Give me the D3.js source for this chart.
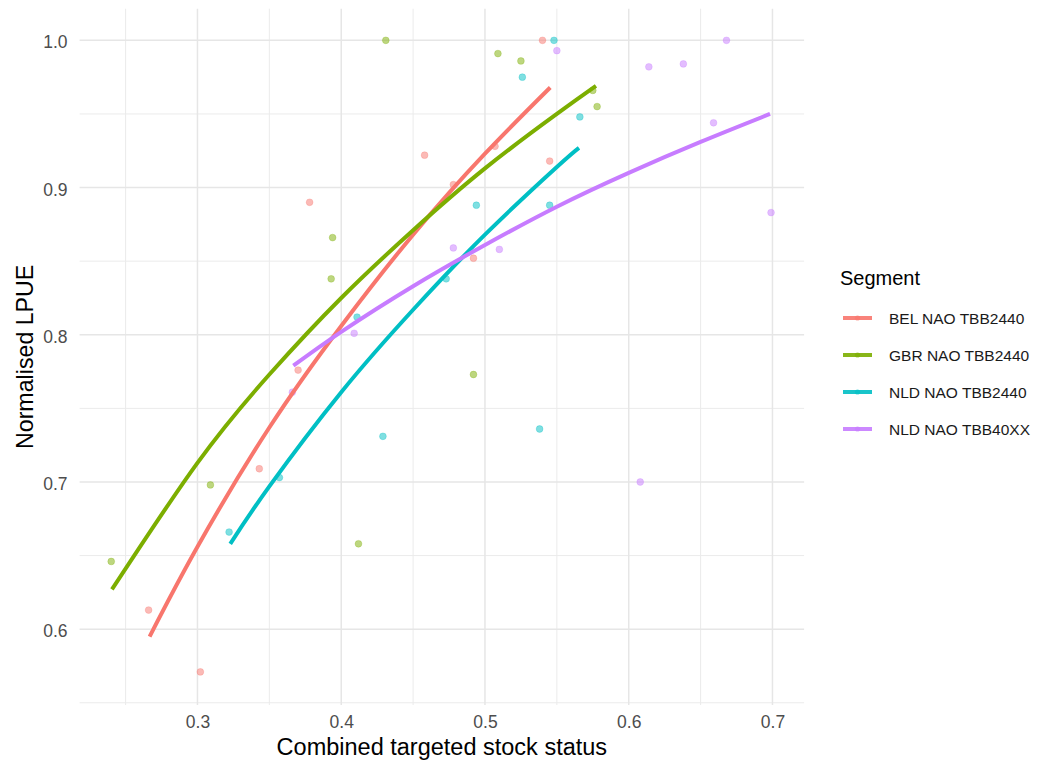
<!DOCTYPE html>
<html>
<head>
<meta charset="utf-8">
<script src="https://cdn.jsdelivr.net/npm/d3@7"></script>
<style>
  html, body { margin: 0; padding: 0; background: #ffffff; }
  svg { display: block; font-family: "Liberation Sans", Arial, Helvetica, sans-serif; }
</style>
</head>
<body>
<svg id="chart" width="1063" height="762"></svg>
<script>
// ---- Data ----
const segments = ["BEL NAO TBB2440", "GBR NAO TBB2440", "NLD NAO TBB2440", "NLD NAO TBB40XX"];
const colors = ["#F8766D", "#7CAE00", "#00BFC4", "#C77CFF"];

// Observed points [stock status, normalised LPUE]
const belPoints = [[0.458,0.922],[0.378,0.890],[0.540,1.000],[0.507,0.928],[0.545,0.918],[0.478,0.902],
  [0.492,0.852],[0.370,0.776],[0.343,0.709],[0.266,0.613],[0.302,0.571]];
const gbrPoints = [[0.431,1.000],[0.394,0.866],[0.509,0.991],[0.525,0.986],[0.575,0.966],[0.578,0.955],
  [0.393,0.838],[0.309,0.698],[0.492,0.773],[0.412,0.658],[0.240,0.646]];
const nld2440Points = [[0.548,1.000],[0.526,0.975],[0.566,0.948],[0.494,0.888],[0.545,0.888],[0.411,0.812],
  [0.429,0.731],[0.357,0.703],[0.473,0.838],[0.538,0.736],[0.322,0.666]];
const nld40xxPoints = [[0.550,0.993],[0.614,0.982],[0.638,0.984],[0.668,1.000],[0.659,0.944],[0.478,0.859],
  [0.510,0.858],[0.699,0.883],[0.409,0.801],[0.608,0.700],[0.366,0.761]];

// Fitted curves
const belCurve = [[0.2667,0.595],[0.30,0.656],[0.35,0.737],[0.40,0.806],[0.45,0.868],[0.50,0.923],[0.5454,0.968]];
const gbrCurve = [[0.2405,0.627],[0.30,0.713],[0.35,0.773],[0.40,0.825],[0.45,0.871],[0.50,0.913],[0.55,0.950],[0.5772,0.969]];
const nld2440Curve = [[0.3228,0.658],[0.35,0.697],[0.40,0.761],[0.45,0.817],[0.50,0.868],[0.55,0.914],[0.5654,0.927]];
const nld40xxCurve = [[0.3667,0.779],[0.40,0.802],[0.45,0.833],[0.50,0.861],[0.55,0.887],[0.60,0.910],[0.65,0.931],[0.6983,0.950]];

const xTicks = [0.3, 0.4, 0.5, 0.6, 0.7];
const xMinor = [0.25, 0.35, 0.45, 0.55, 0.65];
const yTicks = [0.6, 0.7, 0.8, 0.9, 1.0];
const yMinor = [0.55, 0.65, 0.75, 0.85, 0.95];

const xTitle = "Combined targeted stock status";
const yTitle = "Normalised LPUE";
const legendTitle = "Segment";

// ---- Layout ----
const svg = d3.select("#chart");
const panel = { left: 79.6, right: 804.1, top: 8.7, bottom: 705 };

const x = d3.scaleLinear().domain([0.218, 0.722]).range([panel.left, panel.right]);
const y = d3.scaleLinear().domain([0.5485, 1.0215]).range([panel.bottom, panel.top]);

const seriesPoints = [belPoints, gbrPoints, nld2440Points, nld40xxPoints];
const seriesCurves = [belCurve, gbrCurve, nld2440Curve, nld40xxCurve];

// Grid
const grid = svg.append("g");
grid.selectAll("line.xminor").data(xMinor).join("line")
  .attr("x1", d => x(d)).attr("x2", d => x(d))
  .attr("y1", panel.top).attr("y2", panel.bottom)
  .attr("stroke", "#EBEBEB").attr("stroke-width", 1);
grid.selectAll("line.yminor").data(yMinor).join("line")
  .attr("y1", d => y(d)).attr("y2", d => y(d))
  .attr("x1", panel.left).attr("x2", panel.right)
  .attr("stroke", "#EBEBEB").attr("stroke-width", 1);
grid.selectAll("line.xmajor").data(xTicks).join("line")
  .attr("x1", d => x(d)).attr("x2", d => x(d))
  .attr("y1", panel.top).attr("y2", panel.bottom)
  .attr("stroke", "#E6E6E6").attr("stroke-width", 1.5);
grid.selectAll("line.ymajor").data(yTicks).join("line")
  .attr("y1", d => y(d)).attr("y2", d => y(d))
  .attr("x1", panel.left).attr("x2", panel.right)
  .attr("stroke", "#E6E6E6").attr("stroke-width", 1.5);

// Axes (labels only, like ggplot theme_minimal)
const xAxis = d3.axisBottom(x).tickValues(xTicks).tickFormat(d3.format(".1f")).tickSize(0).tickPadding(0);
const gx = svg.append("g").attr("transform", `translate(0, ${panel.bottom})`).call(xAxis);
gx.select(".domain").remove();
gx.selectAll("text").attr("fill", "#4D4D4D").attr("font-size", 17.5)
  .attr("dy", null).attr("y", 23).attr("font-family", "Liberation Sans, Arial, sans-serif");

const yAxis = d3.axisLeft(y).tickValues(yTicks).tickFormat(d3.format(".1f")).tickSize(0).tickPadding(0);
const gy = svg.append("g").attr("transform", `translate(${panel.left}, 0)`).call(yAxis);
gy.select(".domain").remove();
gy.selectAll("text").attr("fill", "#4D4D4D").attr("font-size", 17.5)
  .attr("x", -12).attr("dy", "0.43em").attr("font-family", "Liberation Sans, Arial, sans-serif");

// Points
const pts = svg.append("g");
seriesPoints.forEach((arr, i) => {
  pts.selectAll(null).data(arr).join("circle")
    .attr("cx", d => x(d[0])).attr("cy", d => y(d[1]))
    .attr("r", 3.4)
    .attr("fill", colors[i]).attr("fill-opacity", 0.5)
    .attr("stroke", colors[i]).attr("stroke-opacity", 0.35).attr("stroke-width", 0.8);
});

// Curves
const line = d3.line().x(d => x(d[0])).y(d => y(d[1])).curve(d3.curveNatural);
const lines = svg.append("g");
seriesCurves.forEach((arr, i) => {
  lines.append("path").datum(arr)
    .attr("d", line)
    .attr("fill", "none")
    .attr("stroke", colors[i])
    .attr("stroke-width", 4);
});

// Axis titles
svg.append("text").attr("x", (panel.left + panel.right) / 2).attr("y", 755)
  .attr("text-anchor", "middle").attr("font-size", 23.5).attr("fill", "#000")
  .text(xTitle);
svg.append("text")
  .attr("transform", `translate(33, ${(panel.top + panel.bottom) / 2}) rotate(-90)`)
  .attr("text-anchor", "middle").attr("font-size", 23.2).attr("fill", "#000")
  .text(yTitle);

// Legend
const lg = svg.append("g");
lg.append("text").attr("x", 840).attr("y", 285).attr("font-size", 20).attr("fill", "#000").text(legendTitle);
const keyY = [318, 355, 392, 429];
segments.forEach((s, i) => {
  const g = lg.append("g").attr("transform", `translate(0, ${keyY[i]})`);
  g.append("line").attr("x1", 843).attr("x2", 872).attr("y1", 0).attr("y2", 0)
    .attr("stroke", colors[i]).attr("stroke-width", 4).attr("stroke-opacity", 0.9);
  g.append("circle").attr("cx", 857.5).attr("cy", 0).attr("r", 2.6)
    .attr("fill", colors[i]).attr("fill-opacity", 0.6);
  g.append("text").attr("x", 889).attr("y", 0).attr("dy", "0.36em")
    .attr("font-size", 15.5).attr("fill", "#1a1a1a").text(s);
});
</script>
</body>
</html>
